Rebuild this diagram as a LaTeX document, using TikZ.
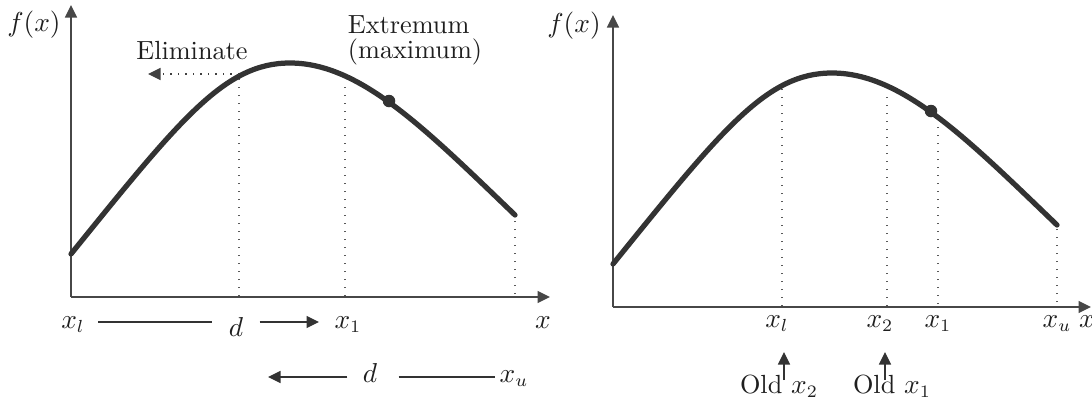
\documentclass[tikz,border=0pt]{standalone}
\usetikzlibrary{arrows.meta}
\begin{document}
\begin{tikzpicture}[x=0.4pt,y=-0.4pt,
  font=\fontsize{10.5}{12.6}\selectfont,
  tip/.style={-{Triangle[length=5pt,width=4.8pt]}},
  axis/.style={line width=0.6pt, draw=black!72, tip},
  curve/.style={line width=2.1pt, draw=black!80, line cap=round},
  guide/.style={line width=0.5pt, draw=black!65, dash pattern=on 0.6pt off 2.6pt},
  elim/.style={line width=0.5pt, draw=black!75, dash pattern=on 0.6pt off 2.4pt, tip},
  arr/.style={line width=0.5pt, draw=black!80, tip},
  plain/.style={line width=0.5pt, draw=black!80},
  lab/.style={inner sep=0pt, anchor=base, text=black!88},
  dot/.style={circle, fill=black!80, inner sep=0pt, minimum size=5pt}]
\useasboundingbox (0,0) rectangle (1092,401);

% ---------------- left panel ----------------
\coordinate (OL) at (71,297);
\coordinate (YL) at (71,5);
\coordinate (XL) at (550,297);
\draw[axis] (OL) -- (YL);
\draw[axis] (OL) -- (XL);
\node[lab] (fxL) at (34,31) {$f(x)$};

\draw[curve] (71,254) .. controls (181,118) and (225,63) .. (290,63)
  .. controls (360,63) and (425,128.6) .. (515,215);
\node[dot] (mL) at (389,101) {};

% dotted guides
\coordinate (gA0) at (239,296); \coordinate (gA1) at (239,78);
\coordinate (gB0) at (345,296); \coordinate (gB1) at (345,80);
\coordinate (gC0) at (515,294); \coordinate (gC1) at (515,217);
\draw[guide] (gA0) -- (gA1);
\draw[guide] (gB0) -- (gB1);
\draw[guide] (gC0) -- (gC1);

% eliminate
\node[lab] (elimtxt) at (192,59) {Eliminate};
\coordinate (eS) at (239,74);
\coordinate (eT) at (148,74);
\draw[elim] (eS) -- (eT);

\node[inner sep=0pt, align=left, text=black!88] (ext) at (415,40) {Extremum\\[-2.6pt](maximum)};

% bottom row 1
\coordinate (r1) at (0,322);
\node[lab] (xl1) at (73,328) {$x_l$};
\node[lab] (d1) at (236,336) {$d$};
\node[lab] (x11) at (348,328) {$x_1$};
\node[lab] (xx1) at (543,328) {$x$};
\coordinate (t1) at (319,322);
\draw[plain] ([xshift=5.2pt]xl1.east |- r1) -- ([xshift=-6.4pt]d1.west |- r1);
\draw[arr] ([xshift=6.4pt]d1.east |- r1) -- (t1);

% bottom row 2
\coordinate (r2) at (0,377);
\node[lab] (d2) at (370,382) {$d$};
\node[lab] (xu1) at (514,382) {$x_u$};
\coordinate (t2) at (268,377);
\draw[arr] ([xshift=-6pt]d2.west |- r2) -- (t2);
\draw[plain] ([xshift=8.4pt]d2.east |- r2) -- ([xshift=-1.6pt]xu1.west |- r2);

% ---------------- right panel ----------------
\coordinate (OR) at (613,307);
\coordinate (YR) at (613,15);
\coordinate (XR) at (1091,307);
\draw[axis] (OR) -- (YR);
\draw[axis] (OR) -- (XR);
\node[lab] (fxR) at (574,32) {$f(x)$};

\draw[curve] (613,264) .. controls (723,128) and (767,73) .. (832,73)
  .. controls (902,73) and (967,138.6) .. (1057,225);
\node[dot] (mR) at (931,111) {};

\coordinate (hA0) at (782,306); \coordinate (hA1) at (782,88);
\coordinate (hB0) at (887,306); \coordinate (hB1) at (887,90);
\coordinate (hC0) at (938,304); \coordinate (hC1) at (938,121);
\coordinate (hD0) at (1057,302); \coordinate (hD1) at (1057,227);
\draw[guide] (hA0) -- (hA1);
\draw[guide] (hB0) -- (hB1);
\draw[guide] (hC0) -- (hC1);
\draw[guide] (hD0) -- (hD1);

\node[lab] (xlR) at (777,327) {$x_l$};
\node[lab] (x2R) at (880,327) {$x_2$};
\node[lab] (x1R) at (938,327) {$x_1$};
\node[lab] (xuR) at (1057,327) {$x_u$};
\node[lab] (xxR) at (1087,327) {$x$};

\node[lab] (old2) at (779,393) {Old $x_2$};
\node[lab] (old1) at (892,393) {Old $x_1$};
\coordinate (o2b) at (784,380); \coordinate (o2t) at (784,352);
\coordinate (o1b) at (885,380); \coordinate (o1t) at (885,352);
\draw[arr] (o2b) -- (o2t);
\draw[arr] (o1b) -- (o1t);
\end{tikzpicture}
\end{document}
